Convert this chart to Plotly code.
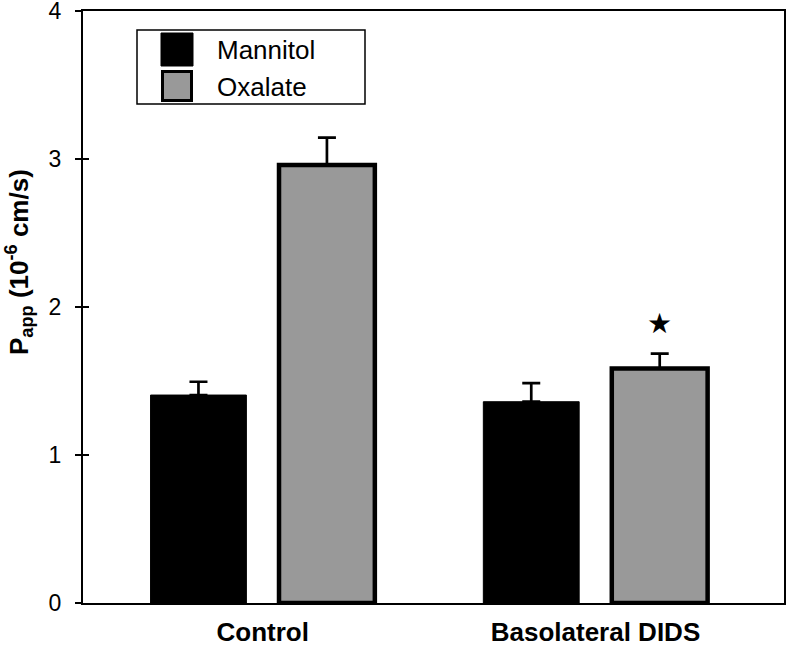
import plotly.graph_objects as go

categories = ["Control", "Basolateral DIDS"]
mannitol = [1.405, 1.36]
mannitol_err = [0.09, 0.125]
oxalate = [2.96, 1.585]
oxalate_err = [0.185, 0.10]
star_value = 1.89
y_ticks = [0, 1, 2, 3, 4]

W, H = 789, 646
L, R, T, B = 83, 5, 11, 43
BARGAP = 0.228
GROUPGAP = 0.254
FONT = "Liberation Sans, Arial, Helvetica, sans-serif"


def px(xp):
    return (xp - L) / (W - L - R)


def py(yp):
    return (H - B - yp) / (H - T - B)


fig = go.Figure()
fig.add_trace(go.Bar(
    name="Mannitol", x=categories, y=mannitol,
    marker=dict(color="black", line=dict(color="black", width=1)),
    error_y=dict(type="data", array=mannitol_err, symmetric=False,
                 arrayminus=[0] * len(mannitol_err), color="black",
                 thickness=2.7, width=9),
))
fig.add_trace(go.Bar(
    name="Oxalate", x=categories, y=oxalate,
    marker=dict(color="#999999", line=dict(color="black", width=4.5)),
    error_y=dict(type="data", array=oxalate_err, symmetric=False,
                 arrayminus=[0] * len(oxalate_err), color="black",
                 thickness=2.7, width=9),
))

# significance star above the DIDS oxalate bar
offset = (1 - BARGAP) / 4
fig.add_annotation(x=1 + offset, y=star_value, xref="x", yref="y",
                   text="★", showarrow=False,
                   font=dict(size=28, color="black", family="DejaVu Sans"))

# y-axis title
fig.add_annotation(x=px(19), y=py(262), xref="paper", yref="paper",
                   text="<b>P<sub>app</sub> (10<sup>-6</sup> cm/s)</b>",
                   textangle=-90, showarrow=False,
                   xanchor="center", yanchor="middle",
                   font=dict(size=26, color="black", family=FONT))

# custom legend
shapes = [
    dict(type="rect", xref="paper", yref="paper", x0=px(137), x1=px(365),
         y0=py(104), y1=py(30), line=dict(color="black", width=1.5),
         fillcolor="white", layer="above"),
    dict(type="rect", xref="paper", yref="paper", x0=px(161), x1=px(193),
         y0=py(66), y1=py(33), line=dict(color="black", width=1),
         fillcolor="black", layer="above"),
    dict(type="rect", xref="paper", yref="paper", x0=px(162.5), x1=px(191.5),
         y0=py(100.5), y1=py(71.5), line=dict(color="black", width=3),
         fillcolor="#999999", layer="above"),
]
for label, yc in [("Mannitol", 50), ("Oxalate", 87)]:
    fig.add_annotation(x=px(215), y=py(yc), xref="paper", yref="paper",
                       text=label, showarrow=False, xanchor="left",
                       yanchor="middle",
                       font=dict(size=26, color="black", family=FONT))

fig.update_layout(
    width=W, height=H,
    margin=dict(l=L, r=R, t=T, b=B),
    paper_bgcolor="white", plot_bgcolor="white",
    barmode="group", bargap=BARGAP, bargroupgap=GROUPGAP,
    showlegend=False,
    shapes=shapes,
    font=dict(family=FONT, color="black"),
    xaxis=dict(
        range=[-0.540, 1.5665], automargin=False,
        showline=True, linecolor="black", linewidth=2, mirror=True,
        ticks="", showgrid=False, zeroline=False,
        tickfont=dict(size=26, family=FONT, weight="bold"),
        ticklabelstandoff=5,
    ),
    yaxis=dict(
        range=[0, 4], tickvals=y_ticks,
        ticktext=[str(v) for v in y_ticks],
        automargin=False, ticklabeloverflow="allow",
        showline=True, linecolor="black", linewidth=2, mirror=True,
        ticks="outside", ticklen=6, tickwidth=1.5, tickcolor="black",
        showgrid=False, zeroline=False,
        tickfont=dict(size=23, family=FONT),
        ticklabelstandoff=9,
    ),
    yaxis2=dict(
        overlaying="y", matches="y", side="left",
        automargin=False,
        tickvals=y_ticks, ticks="inside", ticklen=6, tickwidth=1.5,
        tickcolor="black", showticklabels=False, showline=False,
        showgrid=False, zeroline=False,
    ),
)
fig.add_trace(go.Scatter(x=[None], y=[None], yaxis="y2", showlegend=False,
                         hoverinfo="skip"))

fig.write_html(
    "out.html",
    config={"displayModeBar": False},
    post_script="document.body.style.margin='0';"
                "document.body.style.overflow='hidden';",
)
